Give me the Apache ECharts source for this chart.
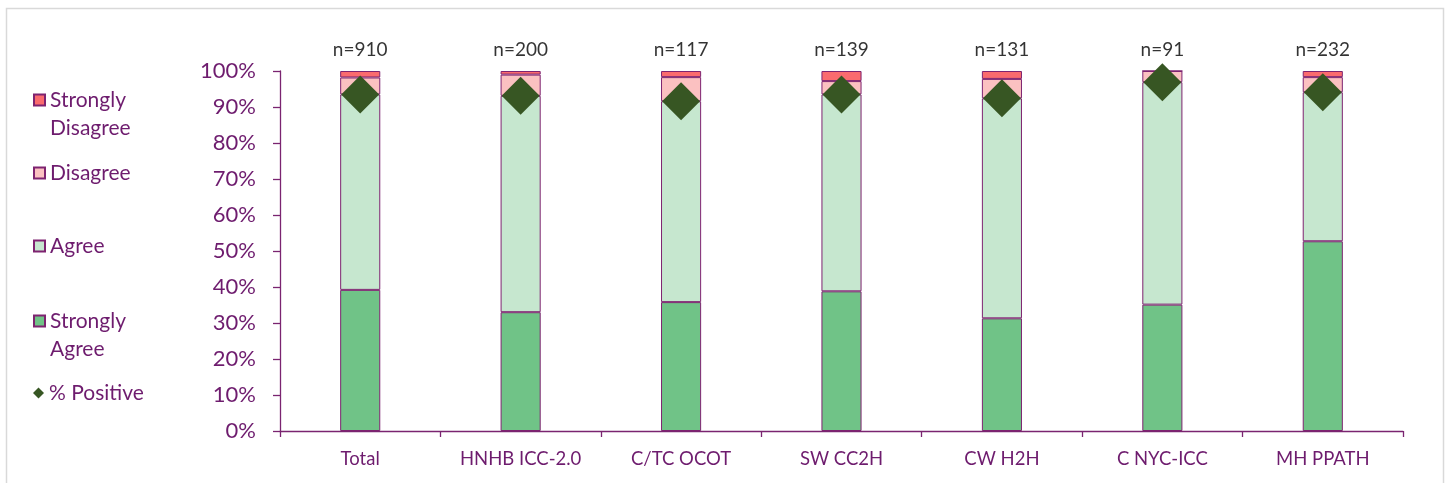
<!DOCTYPE html>
<html>
<head>
<meta charset="utf-8">
<script src="https://cdn.jsdelivr.net/npm/echarts@6/dist/echarts.min.js"></script>
<style>
html,body{margin:0;padding:0;background:#fff;}
#c{width:1448px;height:483px;}
</style>
</head>
<body>
<div id="c"></div>
<script>
const categories = ['Total','HNHB ICC-2.0','C/TC OCOT','SW CC2H','CW H2H','C NYC-ICC','MH PPATH'];
const nLabels = ['n=910','n=200','n=117','n=139','n=131','n=91','n=232'];
const stronglyAgree = [39.2, 33.0, 35.8, 38.8, 31.3, 35.1, 52.7];
const agree = [54.3, 60.1, 55.8, 54.7, 61.1, 61.8, 41.4];
const disagree = [4.7, 5.9, 6.7, 3.7, 5.4, 3.1, 4.2];
const stronglyDisagree = [1.8, 1.0, 1.7, 2.8, 2.2, 0, 1.7];
const positive = [93.5, 93.1, 91.6, 93.5, 92.4, 96.9, 94.1];
const yTicks = [0,10,20,30,40,50,60,70,80,90,100];
const legendLabels = {
  'Strongly Disagree': '\nStrongly\nDisagree',
  'Disagree': 'Disagree',
  'Agree': 'Agree',
  'Strongly Agree': '\nStrongly\nAgree',
  '% Positive': '% Positive'
};

const purple = '#6E1C6E';
const axisPurple = '#7A2470';
const font = 'Lato';

const chart = echarts.init(document.getElementById('c'));

function barSeries(name, data, color) {
  return {
    name, type: 'bar', stack: 'total', data,
    barWidth: '25%',
    itemStyle: { color, borderColor: '#7E2370', borderWidth: 1 },
    emphasis: { disabled: true }
  };
}

function legendItem(name, top, icon) {
  return {
    data: [{ name, icon }],
    left: 33, top,
    padding: 0,
    orient: 'vertical',
    itemWidth: 11, itemHeight: 11,
    itemGap: 0,
    selectedMode: false,
    formatter: n => legendLabels[n],
    textStyle: { color: purple, fontFamily: font, fontSize: 21, lineHeight: 28 }
  };
}

chart.setOption({
  animation: false,
  backgroundColor: '#fff',
  graphic: [{
    type: 'rect', left: 4, top: 6,
    shape: { width: 1437, height: 490 },
    style: { fill: 'none', stroke: '#d9d9d9', lineWidth: 1.5 },
    silent: true
  }],
  legend: [
    legendItem('Strongly Disagree', 58, 'rect'),
    legendItem('Disagree', 159, 'rect'),
    legendItem('Agree', 232, 'rect'),
    legendItem('Strongly Agree', 279, 'rect'),
    legendItem('% Positive', 379, 'diamond')
  ],
  grid: { left: 280, right: 45, top: 71, bottom: 52, containLabel: false },
  xAxis: {
    type: 'category',
    data: categories,
    axisLine: { lineStyle: { color: axisPurple, width: 1.3 } },
    axisTick: { show: true, length: 6, inside: false, lineStyle: { color: axisPurple, width: 1.3 } },
    axisLabel: { color: purple, fontFamily: font, fontSize: 18.5, margin: 19 }
  },
  yAxis: {
    type: 'value',
    min: yTicks[0], max: yTicks[yTicks.length - 1], interval: 10,
    splitLine: { show: false },
    axisLine: { show: true, lineStyle: { color: axisPurple, width: 1.3 } },
    axisTick: { show: true, length: 7, lineStyle: { color: axisPurple, width: 1.3 } },
    axisLabel: { color: purple, fontFamily: font, fontSize: 22, margin: 24, formatter: '{value}%' }
  },
  series: [
    barSeries('Strongly Agree', stronglyAgree, '#70C387'),
    barSeries('Agree', agree, '#C6E7CF'),
    barSeries('Disagree', disagree, '#FBC1C1'),
    barSeries('Strongly Disagree', stronglyDisagree, '#FA6B6E'),
    {
      name: '% Positive', type: 'scatter',
      data: positive,
      symbol: 'diamond', symbolSize: 38,
      itemStyle: { color: '#375623', opacity: 1 },
      z: 5,
      emphasis: { disabled: true }
    },
    {
      name: 'n', type: 'scatter',
      data: categories.map((c, i) => ({ value: 100, label: { formatter: nLabels[i] } })),
      symbolSize: 0,
      itemStyle: { color: 'transparent' },
      label: { show: true, position: 'top', distance: 12, color: '#000', fontFamily: font, fontSize: 19 },
      silent: true
    }
  ]
});
</script>
</body>
</html>
